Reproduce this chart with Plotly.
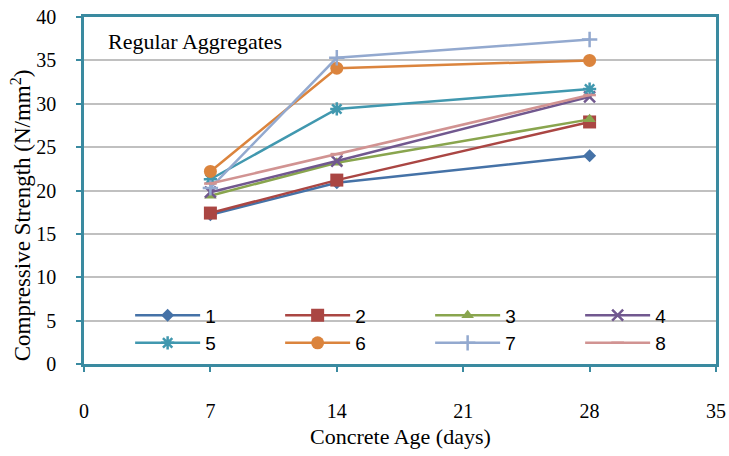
import plotly.graph_objects as go

# Concrete age (days) and compressive strength (N/mm²) per mix
ages = [7, 14, 28]
mix_names = ["1", "2", "3", "4", "5", "6", "7", "8"]
mix1 = [17.2, 20.9, 24.0]
mix2 = [17.4, 21.2, 27.9]
mix3 = [19.4, 23.2, 28.2]
mix4 = [19.8, 23.4, 30.8]
mix5 = [21.3, 29.4, 31.7]
mix6 = [22.2, 34.1, 35.0]
mix7 = [20.3, 35.3, 37.4]
mix8 = [20.8, 24.2, 31.0]
x_ticks = [0, 7, 14, 21, 28, 35]
y_ticks = [0, 5, 10, 15, 20, 25, 30, 35, 40]

series = [mix1, mix2, mix3, mix4, mix5, mix6, mix7, mix8]
colors = ["#4572A7", "#AA4643", "#89A54E", "#71588F",
          "#4198AF", "#DB843D", "#93A9CF", "#D19392"]
symbols = ["diamond", "square", "triangle-up", "x-thin",
           "asterisk", "circle", "cross-thin", "line-ew"]
sizes = [10, 13, 11, 11, 11, 13, 11, 9]

AXIS = "#3A8AA0"
GRID = "#C0C0C0"
SERIF = "Liberation Serif"

fig = go.Figure()
for name, vals, col, sym, sz in zip(mix_names, series, colors, symbols, sizes):
    open_sym = sym in ("x-thin", "asterisk", "cross-thin", "line-ew")
    fig.add_trace(go.Scatter(
        x=ages, y=vals, name=name, mode="lines+markers",
        line=dict(color=col, width=2.5),
        marker=dict(symbol=sym, size=sz, color=col,
                    line=dict(color=col, width=2.5 if open_sym else 0)),
    ))

# white panel behind the legend so the 5-gridline does not run through it
fig.add_shape(
    type="rect", xref="paper", yref="paper",
    x0=0.038, x1=0.956, y0=0.023, y1=0.184,
    fillcolor="white", line=dict(width=0), layer="between",
)

fig.update_layout(
    width=729, height=456,
    margin=dict(l=84, r=13, t=17, b=92, autoexpand=False),
    paper_bgcolor="white", plot_bgcolor="white",
    font=dict(family=SERIF, size=20, color="black"),
    showlegend=True,
    legend=dict(
        orientation="h", x=0.073, xanchor="left", y=0.10, yanchor="middle",
        bgcolor="rgba(0,0,0,0)", entrywidth=70, entrywidthmode="pixels",
        font=dict(family="Liberation Sans", size=19),
        tracegroupgap=0, itemwidth=65,
    ),
)

fig.update_xaxes(
    range=[0, 35], tickvals=x_ticks, showgrid=False, zeroline=False,
    showline=True, linecolor=AXIS, linewidth=2.5, mirror=True,
    ticks="outside", ticklen=5, tickcolor=AXIS, tickwidth=2,
    ticklabelstandoff=22, tickfont=dict(family=SERIF, size=20),
    automargin=False,
)
fig.update_yaxes(
    range=[0, 40], tickvals=y_ticks, showgrid=True, gridcolor=GRID, gridwidth=2,
    zeroline=False, showline=True, linecolor=AXIS, linewidth=2.5, mirror=True,
    ticks="outside", ticklen=5, tickcolor=AXIS, tickwidth=2,
    ticklabelstandoff=16, tickfont=dict(family=SERIF, size=20),
    automargin=False,
)

fig.add_annotation(
    text="Compressive Strength (N/mm<sup>2</sup>)", textangle=-90,
    xref="paper", yref="paper", x=-0.099, y=0.43,
    xanchor="center", yanchor="middle", showarrow=False,
    font=dict(family=SERIF, size=23),
)
fig.add_annotation(
    text="Concrete Age (days)",
    xref="paper", yref="paper", x=0.5, y=-0.21,
    xanchor="center", yanchor="middle", showarrow=False,
    font=dict(family=SERIF, size=22),
)
fig.add_annotation(
    text="Regular Aggregates",
    xref="paper", yref="paper", x=0.035, y=0.928,
    xanchor="left", yanchor="middle", showarrow=False,
    font=dict(family=SERIF, size=22),
)

fig.write_html("out.html")
